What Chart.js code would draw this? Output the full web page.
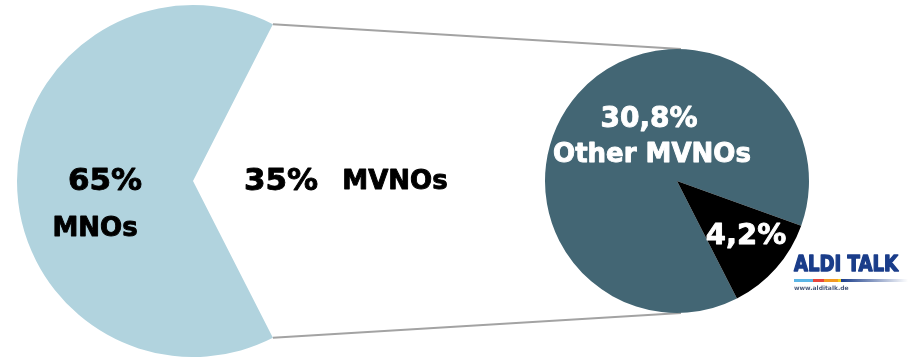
<!DOCTYPE html>
<html>
<head>
<meta charset="utf-8">
<script src="https://cdn.jsdelivr.net/npm/chart.js@4.4.1/dist/chart.umd.min.js"></script>
<style>
  html, body { margin: 0; padding: 0; background: #fff; }
  #wrap { position: relative; width: 914px; height: 357px; }
  #wrap canvas { position: absolute; left: 0; top: 0; }
</style>
</head>
<body>
<div id="wrap">
  <canvas id="mainPie" width="914" height="357"></canvas>
  <canvas id="subPie" width="914" height="357"></canvas>
</div>
<script>
  // Market share data
  const mainLabels = ['MNOs', 'MVNOs'];
  const mainValues = [65, 35];
  const mainText = ['65%', '35%'];

  const subLabels = ['Other MVNOs', 'ALDI TALK'];
  const subValues = [30.8, 4.2];
  const subText = ['30,8%', '4,2%'];

  const FONT = '"DejaVu Sans", Verdana, sans-serif';

  // heavy text: fill + thin stroke, close to Verdana Bold
  function heavyText(ctx, txt, x, y, w) {
    ctx.lineWidth = w || 0.9;
    ctx.strokeStyle = ctx.fillStyle;
    ctx.lineJoin = 'round';
    ctx.fillText(txt, x, y);
    ctx.strokeText(txt, x, y);
  }

  // Labels of the big pie
  const mainLabelPlugin = {
    id: 'mainLabels',
    afterDatasetsDraw(chart) {
      const ctx = chart.ctx;
      const arc = chart.getDatasetMeta(0).data[0];
      const cx = arc.x, cy = arc.y;
      ctx.save();
      ctx.fillStyle = '#000';
      ctx.textAlign = 'center';
      ctx.textBaseline = 'middle';
      ctx.font = 'bold 31px ' + FONT;
      heavyText(ctx, mainText[0], cx - 88, cy + 1);
      heavyText(ctx, mainText[1], cx + 88, cy + 1);
      ctx.font = 'bold 26px ' + FONT;
      heavyText(ctx, mainLabels[0], cx - 98, cy + 48);
      heavyText(ctx, mainLabels[1], cx + 202, cy + 1);
      ctx.restore();
    }
  };

  const mainChart = new Chart(document.getElementById('mainPie'), {
    type: 'pie',
    data: {
      labels: mainLabels,
      datasets: [{
        data: mainValues,
        backgroundColor: ['#b1d3de', 'rgba(0,0,0,0)'],
        borderWidth: 0
      }]
    },
    options: {
      responsive: false,
      animation: false,
      rotation: 153,
      layout: { padding: { left: 17, top: 5, right: 545, bottom: 0 } },
      plugins: {
        legend: { display: false },
        tooltip: { enabled: false }
      }
    },
    plugins: [mainLabelPlugin]
  });

  // Connector lines (under the small pie) + labels + logo
  const subPlugin = {
    id: 'subExtras',
    beforeDatasetsDraw(chart) {
      const ctx = chart.ctx;
      const big = mainChart.getDatasetMeta(0).data[0];
      const small = chart.getDatasetMeta(0).data[0];
      const r = big.outerRadius;
      // endAngle = upper tip, startAngle = lower tip
      const top = big.endAngle, bot = big.startAngle;
      ctx.save();
      ctx.strokeStyle = '#a3a3a3';
      ctx.lineWidth = 2;
      ctx.beginPath();
      ctx.moveTo(big.x + r * Math.cos(top), big.y + r * Math.sin(top));
      ctx.lineTo(small.x + 4, small.y - small.outerRadius);
      ctx.moveTo(big.x + r * Math.cos(bot), big.y + r * Math.sin(bot));
      ctx.lineTo(small.x + 4, small.y + small.outerRadius);
      ctx.stroke();
      ctx.restore();
    },
    afterDatasetsDraw(chart) {
      const ctx = chart.ctx;
      const arc = chart.getDatasetMeta(0).data[0];
      const cx = arc.x, cy = arc.y;
      ctx.save();
      ctx.fillStyle = '#fff';
      ctx.textAlign = 'center';
      ctx.textBaseline = 'middle';
      ctx.font = 'bold 28px ' + FONT;
      heavyText(ctx, subText[0], cx - 28, cy - 61);
      ctx.font = 'bold 26px ' + FONT;
      heavyText(ctx, subLabels[0], cx - 25, cy - 26);
      ctx.font = 'bold 29px ' + FONT;
      heavyText(ctx, subText[1], cx + 69, cy + 55);

      // ALDI TALK logo
      const lx = 794, ly = 266;
      ctx.textAlign = 'left';
      ctx.fillStyle = '#1a3d8a';
      ctx.font = 'bold 21px ' + FONT;
      ctx.save();
      ctx.translate(lx, ly);
      ctx.scale(0.86, 1);
      heavyText(ctx, 'ALDI TALK', 0, 0, 1.4);
      ctx.restore();
      const stripes = [['#5bb6e6', 19], ['#e8453c', 11], ['#f39a22', 14], ['#f7d117', 3]];
      let sx = lx;
      stripes.forEach(s => {
        ctx.fillStyle = s[0];
        ctx.fillRect(sx, 279, s[1], 3);
        sx += s[1];
      });
      const g = ctx.createLinearGradient(sx, 0, 908, 0);
      g.addColorStop(0, '#1a3d8a');
      g.addColorStop(1, 'rgba(26,61,138,0)');
      ctx.fillStyle = g;
      ctx.fillRect(sx, 279, 908 - sx, 3);
      ctx.fillStyle = '#4a5a7a';
      ctx.font = 'bold 6px ' + FONT;
      ctx.fillText('www.alditalk.de', lx, 288);
      ctx.restore();
    }
  };

  new Chart(document.getElementById('subPie'), {
    type: 'pie',
    data: {
      labels: subLabels,
      datasets: [{
        data: subValues,
        backgroundColor: ['#436674', '#000000'],
        borderWidth: 0
      }]
    },
    options: {
      responsive: false,
      animation: false,
      rotation: 153,
      layout: { padding: { left: 545, top: 49, right: 105, bottom: 44 } },
      plugins: {
        legend: { display: false },
        tooltip: { enabled: false }
      }
    },
    plugins: [subPlugin]
  });
</script>
</body>
</html>
